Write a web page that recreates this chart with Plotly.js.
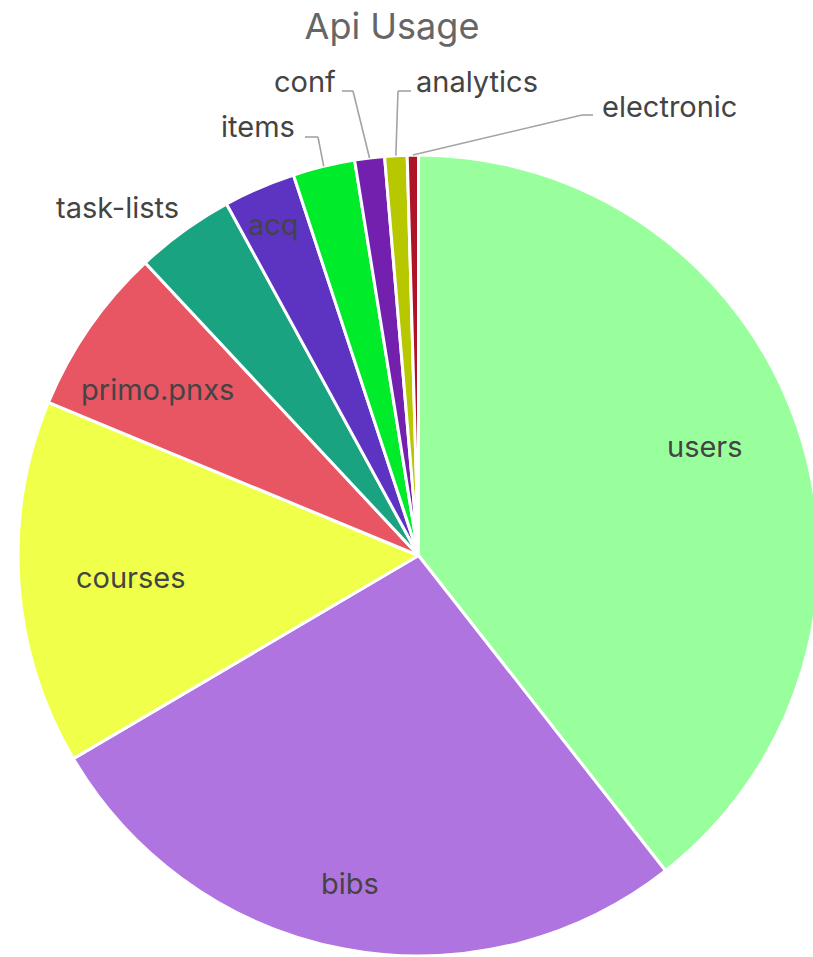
<!DOCTYPE html>
<html>
<head>
<meta charset="utf-8">
<script src="https://cdn.plot.ly/plotly-3.0.1.min.js"></script>
<style>
html,body{margin:0;padding:0;overflow:hidden;background:#fff;}
#chart{width:822px;height:957px;}
</style>
</head>
<body>
<div id="chart"></div>
<script>
// ---- data ----
var labels = ["users","bibs","courses","primo.pnxs","task-lists","acq","items","conf","analytics","electronic"];
var values = [39.4, 27.1, 14.7, 6.8, 4.0, 2.9, 2.5, 1.2, 0.9, 0.45];
var colors = ["#98FF9C","#B074E0","#F0FF4A","#E85663","#1AA380","#5D34C2","#00EB2A","#7420AE","#B8C800","#AE1428"];

// ---- layout geometry ----
var W = 822, H = 957;
var M = {t: 155, b: 1, l: 18, r: 3};
var PW = W - M.l - M.r, PH = H - M.t - M.b;
var R = Math.min(PW, PH) / 2;
var cx = M.l + PW / 2, cy = M.t + PH / 2;
function px2x(px) { return (px - M.l) / PW; }
function py2y(py) { return 1 - (py - M.t) / PH; }

var FONT = "Inter, 'Noto Sans', sans-serif";
var TXT = "#444444";

// label placement: inside labels on the slice's mid-angle (radial fraction + small pixel nudge),
// outside labels at fixed spots with elbow connectors to the slice edge
var inside = {
  "users":      {f: 0.765, dx: -3, dy: -9},
  "bibs":       {f: 0.835, dx: -6, dy: -1},
  "courses":    {f: 0.717, dx: -1, dy: 2},
  "primo.pnxs": {f: 0.773, dx: -7, dy: 10},
  "acq":        {f: 0.894, dx: -3, dy: -2}
};
var outside = {
  "task-lists": {x: 117, y: 207, path: null},
  "items":      {x: 258, y: 127, path: [[305, 137], [318, 137]]},
  "conf":       {x: 305, y: 81,  path: [[342, 91], [353, 91]]},
  "analytics":  {x: 477, y: 81,  path: [[411, 91], [398, 91]]},
  "electronic": {x: 669, y: 106, path: [[593, 115], [582, 115]]}
};

var total = values.reduce(function (a, b) { return a + b; }, 0);
var annotations = [], shapes = [];
var acc = 0;
for (var i = 0; i < labels.length; i++) {
  var mid = (acc + values[i] / 2) / total * 2 * Math.PI;
  acc += values[i];
  var lab = labels[i];
  if (inside[lab]) {
    var s = inside[lab];
    annotations.push({
      text: lab, showarrow: false, xref: "paper", yref: "paper",
      x: px2x(cx + s.f * R * Math.sin(mid) + s.dx), y: py2y(cy - s.f * R * Math.cos(mid) + s.dy),
      xanchor: "center", yanchor: "middle",
      font: {family: FONT, size: 29, color: TXT}
    });
  } else if (outside[lab]) {
    var o = outside[lab];
    annotations.push({
      text: lab, showarrow: false, xref: "paper", yref: "paper",
      x: px2x(o.x), y: py2y(o.y), xanchor: "center", yanchor: "middle",
      font: {family: FONT, size: 29, color: TXT}
    });
    if (o.path) {
      var ex = cx + R * Math.sin(mid), ey = cy - R * Math.cos(mid);
      var pts = o.path.concat([[ex, ey]]);
      for (var k = 0; k < pts.length - 1; k++) {
        shapes.push({
          type: "line", xref: "paper", yref: "paper",
          x0: px2x(pts[k][0]), y0: py2y(pts[k][1]),
          x1: px2x(pts[k + 1][0]), y1: py2y(pts[k + 1][1]),
          line: {color: "#a3a3a3", width: 1.6}
        });
      }
    }
  }
}

var trace = {
  type: "pie",
  labels: labels,
  values: values,
  sort: true,
  direction: "clockwise",
  rotation: 0,
  textinfo: "none",
  hoverinfo: "label+percent",
  marker: {colors: colors, line: {color: "#ffffff", width: 3}},
  domain: {x: [0, 1], y: [0, 1]}
};

var layout = {
  width: W,
  height: H,
  margin: {t: M.t, b: M.b, l: M.l, r: M.r, pad: 0},
  showlegend: false,
  paper_bgcolor: "#ffffff",
  font: {family: FONT, color: TXT},
  title: {
    text: "Api Usage",
    font: {family: FONT, size: 36, color: "#666666"},
    x: 392 / W,
    xref: "container",
    xanchor: "center",
    y: 1 - 26 / H,
    yref: "container",
    yanchor: "middle"
  },
  annotations: annotations,
  shapes: shapes
};

Plotly.newPlot("chart", [trace], layout, {displayModeBar: false, staticPlot: true});
</script>
</body>
</html>
